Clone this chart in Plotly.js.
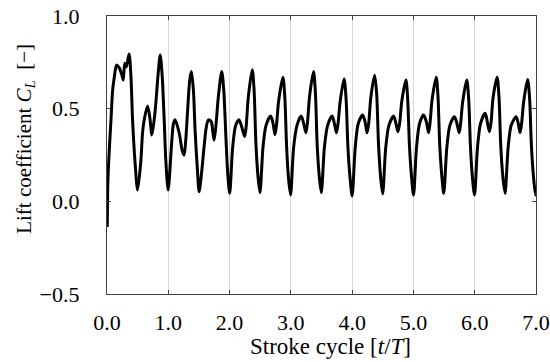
<!DOCTYPE html>
<html>
<head>
<meta charset="utf-8">
<script src="https://cdn.plot.ly/plotly-3.0.1.min.js"></script>
<style>html,body{margin:0;padding:0;background:#fff;}#chart{width:550px;height:362px;}</style>
</head>
<body>
<div id="chart"></div>
<script>
// Stroke cycle t/T
const strokeCycle = [
  0.000, 0.004, 0.012, 0.026, 0.065, 0.092, 0.119, 0.156, 0.200, 0.244, 0.265, 0.290, 0.315, 0.360, 0.390, 0.417, 0.460,
  0.500, 0.553, 0.580, 0.607, 0.662, 0.700, 0.732, 0.770, 0.797, 0.835, 0.868, 0.900, 0.933, 0.960,
  0.998, 1.058, 1.085, 1.112, 1.177, 1.230, 1.258, 1.285, 1.313, 1.350, 1.377, 1.410, 1.437, 1.475,
  1.503, 1.545, 1.584, 1.620, 1.654, 1.700, 1.725, 1.747, 1.775, 1.817, 1.872, 1.905, 1.940, 1.970,
  2.002, 2.050, 2.100, 2.154, 2.200, 2.246, 2.270, 2.305, 2.370, 2.400, 2.430, 2.465,
  2.496, 2.545, 2.595, 2.670, 2.710, 2.740, 2.765, 2.800, 2.870, 2.900, 2.930, 2.960,
  2.995, 3.045, 3.100, 3.168, 3.210, 3.245, 3.270, 3.305, 3.370, 3.400, 3.430, 3.465,
  3.497, 3.547, 3.600, 3.673, 3.710, 3.745, 3.770, 3.805, 3.868, 3.900, 3.930, 3.965,
  4.000, 4.050, 4.100, 4.172, 4.210, 4.243, 4.270, 4.305, 4.367, 4.400, 4.430, 4.465,
  4.498, 4.548, 4.600, 4.677, 4.715, 4.747, 4.775, 4.810, 4.877, 4.905, 4.935, 4.970,
  5.002, 5.050, 5.100, 5.165, 5.210, 5.247, 5.270, 5.305, 5.372, 5.400, 5.430, 5.465,
  5.495, 5.545, 5.595, 5.670, 5.710, 5.747, 5.770, 5.805, 5.870, 5.900, 5.930, 5.962,
  5.997, 6.045, 6.095, 6.170, 6.205, 6.240, 6.265, 6.300, 6.365, 6.395, 6.425, 6.460,
  6.495, 6.545, 6.595, 6.675, 6.710, 6.740, 6.765, 6.800, 6.863, 6.895, 6.925, 6.960,
  6.993, 7.000
];

// Lift coefficient C_L
const liftCoefficient = [
  0.200, -0.130, 0.080, 0.205, 0.440, 0.600, 0.670, 0.735, 0.720, 0.680, 0.655, 0.745, 0.725, 0.795, 0.680, 0.440, 0.200,
  0.061, 0.220, 0.370, 0.440, 0.514, 0.450, 0.358, 0.440, 0.530, 0.690, 0.790, 0.680, 0.440, 0.220,
  0.061, 0.330, 0.420, 0.440, 0.370, 0.270, 0.250, 0.330, 0.477, 0.655, 0.700, 0.600, 0.385, 0.170,
  0.052, 0.160, 0.295, 0.400, 0.440, 0.430, 0.380, 0.330, 0.400, 0.565, 0.700, 0.600, 0.350, 0.150,
  0.043, 0.290, 0.410, 0.440, 0.400, 0.350, 0.400, 0.560, 0.710, 0.600, 0.310, 0.130,
  0.047, 0.290, 0.410, 0.460, 0.420, 0.360, 0.410, 0.540, 0.670, 0.570, 0.300, 0.130,
  0.034, 0.290, 0.410, 0.460, 0.420, 0.370, 0.420, 0.565, 0.700, 0.590, 0.300, 0.130,
  0.047, 0.290, 0.410, 0.460, 0.420, 0.370, 0.420, 0.540, 0.660, 0.560, 0.300, 0.130,
  0.029, 0.290, 0.420, 0.466, 0.430, 0.370, 0.420, 0.560, 0.680, 0.580, 0.310, 0.130,
  0.040, 0.290, 0.410, 0.460, 0.420, 0.376, 0.420, 0.540, 0.655, 0.560, 0.300, 0.130,
  0.034, 0.290, 0.420, 0.466, 0.430, 0.370, 0.420, 0.550, 0.670, 0.570, 0.300, 0.130,
  0.043, 0.290, 0.410, 0.457, 0.420, 0.370, 0.420, 0.540, 0.655, 0.560, 0.300, 0.130,
  0.034, 0.290, 0.420, 0.475, 0.430, 0.376, 0.420, 0.560, 0.670, 0.570, 0.300, 0.130,
  0.043, 0.290, 0.410, 0.457, 0.420, 0.370, 0.420, 0.540, 0.658, 0.560, 0.300, 0.130,
  0.034, 0.040
];

const xTickValues = [0, 1, 2, 3, 4, 5, 6, 7];
const xTickLabels = ["0.0", "1.0", "2.0", "3.0", "4.0", "5.0", "6.0", "7.0"];
const yTickValues = [-0.5, 0.0, 0.5, 1.0];
const yTickLabels = ["\u22120.5", "0.0", "0.5", "1.0"];

const xTitle = "Stroke cycle [<i>t</i>/<i>T</i>]";
const yTitle = "Lift coefficient <i>C</i><sub><i>L</i></sub>  [\u2212]";

const FONT = "Liberation Serif, Times New Roman, serif";

const trace = {
  x: strokeCycle,
  y: liftCoefficient,
  type: "scatter",
  mode: "lines",
  line: {color: "#000000", width: 3, shape: "spline", smoothing: 0.8},
  hoverinfo: "skip"
};

const axisCommon = {
  showline: true,
  linecolor: "#404040",
  linewidth: 1.2,
  mirror: "ticks",
  ticks: "inside",
  ticklen: 4,
  tickwidth: 1,
  tickcolor: "#404040",
  zeroline: false,
  ticklabeloverflow: "allow",
  tickfont: {family: FONT, size: 22, color: "#000"}
};

const layout = {
  width: 550,
  height: 362,
  margin: {l: 107, r: 14, t: 16, b: 68, pad: 0},
  paper_bgcolor: "#ffffff",
  plot_bgcolor: "#ffffff",
  showlegend: false,
  font: {family: FONT, color: "#000"},
  xaxis: Object.assign({}, axisCommon, {
    range: [0, 7],
    tickmode: "array",
    tickvals: xTickValues,
    ticktext: xTickLabels,
    showgrid: true,
    gridcolor: "#d9d9d9",
    gridwidth: 1,
    ticklabelstandoff: 8
  }),
  yaxis: Object.assign({}, axisCommon, {
    range: [-0.5, 1.0],
    tickmode: "array",
    tickvals: yTickValues,
    ticktext: yTickLabels,
    showgrid: false,
    ticklabelstandoff: 22
  }),
  annotations: [
    {text: xTitle, xref: "paper", yref: "paper", x: 0.52, y: -0.188,
     xanchor: "center", yanchor: "middle", showarrow: false,
     font: {family: FONT, size: 23, color: "#000"}},
    {text: yTitle, xref: "paper", yref: "paper", x: -0.193, y: 0.559,
     xanchor: "center", yanchor: "middle", textangle: -90, showarrow: false,
     font: {family: FONT, size: 21, color: "#000"}}
  ]
};

Plotly.newPlot("chart", [trace], layout, {staticPlot: true, displayModeBar: false});
</script>
</body>
</html>
